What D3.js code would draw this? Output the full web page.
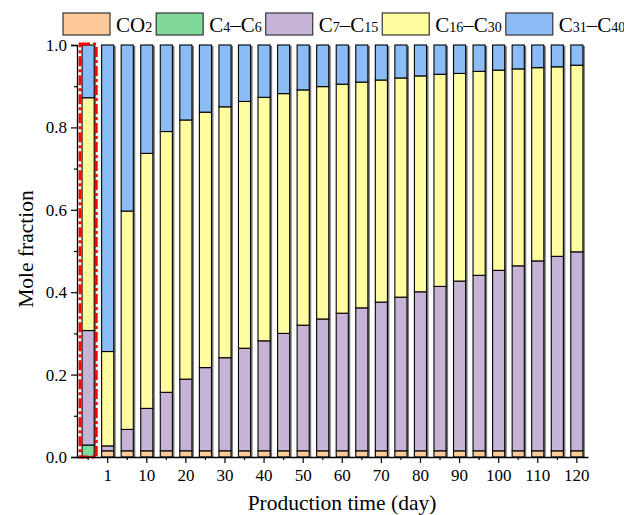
<!DOCTYPE html>
<html>
<head>
<meta charset="utf-8">
<script src="https://cdn.jsdelivr.net/npm/d3@7"></script>
<style>
  body { margin: 0; background: #fff; }
  text { font-family: "Liberation Serif", "Times New Roman", serif; fill: #000; }
</style>
</head>
<body>
<div id="chart"></div>
<script>
// categories: the first bar is the initial composition (no label)
const days = ["init", "1", "5", "10", "15", "20", "25", "30", "35", "40", "45", "50", "55",
              "60", "65", "70", "75", "80", "85", "90", "95", "100", "105", "110", "115", "120"];
const labeledDays = ["1", "10", "20", "30", "40", "50", "60", "70", "80", "90", "100", "110", "120"];

const co2    = [0, 0.015, 0.015, 0.015, 0.015, 0.015, 0.015, 0.015, 0.015, 0.015, 0.015, 0.015, 0.015,
                0.015, 0.015, 0.015, 0.015, 0.015, 0.015, 0.015, 0.015, 0.015, 0.015, 0.015, 0.015, 0.015];
const c4c6   = [0.029, 0, 0, 0, 0, 0, 0, 0, 0, 0, 0, 0, 0,
                0, 0, 0, 0, 0, 0, 0, 0, 0, 0, 0, 0, 0];
const c7c15  = [0.278, 0.012, 0.052, 0.103, 0.142, 0.174, 0.202, 0.226, 0.249, 0.267, 0.285, 0.305, 0.320,
                0.334, 0.347, 0.361, 0.373, 0.386, 0.399, 0.412, 0.426, 0.438, 0.449, 0.461, 0.472, 0.483];
const c16c30 = [0.565, 0.229, 0.530, 0.619, 0.633, 0.629, 0.620, 0.609, 0.599, 0.591, 0.582, 0.571, 0.564,
                0.556, 0.548, 0.539, 0.532, 0.524, 0.515, 0.504, 0.495, 0.486, 0.478, 0.469, 0.460, 0.453];
const c31c40 = [0.128, 0.744, 0.403, 0.263, 0.210, 0.182, 0.163, 0.150, 0.137, 0.127, 0.118, 0.109, 0.101,
                0.095, 0.090, 0.085, 0.080, 0.075, 0.071, 0.069, 0.064, 0.061, 0.058, 0.055, 0.053, 0.049];

const seriesNames = ["CO2", "C4–C6", "C7–C15", "C16–C30", "C31–C40"];
const seriesValues = [co2, c4c6, c7c15, c16c30, c31c40];
const colors = ["#fdca98", "#80d99b", "#c6b3d6", "#fffd9f", "#8bbcf5"];

const yMajor = [0, 0.2, 0.4, 0.6, 0.8, 1.0];
const yMinor = [0.1, 0.3, 0.5, 0.7, 0.9];

const W = 624, H = 515;
const mLeft = 77, mRight = 588, mTop = 45, mBottom = 457;
const serif = '"Liberation Serif", "Times New Roman", serif';

const svg = d3.select("#chart").append("svg")
  .attr("width", W).attr("height", H)
  .attr("font-family", serif);

// table for d3.stack
const rows = days.map(function(d, i) {
  const r = { day: d };
  seriesNames.forEach(function(k, j) { r[k] = seriesValues[j][i]; });
  return r;
});
const stacked = d3.stack().keys(seriesNames)(rows);

const x = d3.scaleBand().domain(days).range([mLeft, mRight])
  .paddingInner(0.38).paddingOuter(0.26);
const y = d3.scaleLinear().domain([0, 1]).range([mBottom, mTop]);

// drop shadows behind each column
svg.append("g").selectAll("rect")
  .data(rows)
  .enter().append("rect")
  .attr("x", d => x(d.day) + 2)
  .attr("y", d => y(d3.sum(seriesNames, k => d[k])) + 1)
  .attr("width", x.bandwidth())
  .attr("height", d => mBottom - y(d3.sum(seriesNames, k => d[k])) - 1)
  .attr("fill", "#7a7a7a");

// stacked bars
svg.append("g").selectAll("g")
  .data(stacked)
  .enter().append("g")
  .attr("fill", (d, i) => colors[i])
  .selectAll("rect")
  .data(d => d.filter(p => p[1] - p[0] > 0))
  .enter().append("rect")
  .attr("x", d => x(d.data.day))
  .attr("y", d => y(d[1]))
  .attr("width", x.bandwidth())
  .attr("height", d => y(d[0]) - y(d[1]))
  .attr("stroke", "#000")
  .attr("stroke-width", 1.1);

// red dashed box around the initial bar
svg.append("rect")
  .attr("x", x("init") - 2)
  .attr("y", mTop - 1)
  .attr("width", x.bandwidth() + 4)
  .attr("height", mBottom - mTop + 1)
  .attr("fill", "none")
  .attr("stroke", "#ff0000")
  .attr("stroke-width", 3)
  .attr("stroke-dasharray", "10,3,3,3");

// axes
svg.append("g")
  .attr("transform", "translate(" + mLeft + ",0)")
  .call(d3.axisLeft(y).tickValues(yMajor).tickSize(6).tickPadding(4).tickFormat(d3.format(".1f")));
const yAxisMinor = svg.append("g")
  .attr("transform", "translate(" + mLeft + ",0)")
  .call(d3.axisLeft(y).tickValues(yMinor).tickSize(3).tickFormat(""));
yAxisMinor.select(".domain").remove();

svg.append("g")
  .attr("transform", "translate(0," + mBottom + ")")
  .call(d3.axisBottom(x).tickValues(labeledDays).tickSize(6).tickPadding(6).tickSizeOuter(0));
const xAxisMinor = svg.append("g")
  .attr("transform", "translate(0," + mBottom + ")")
  .call(d3.axisBottom(x).tickValues(days.filter(d => labeledDays.indexOf(d) < 0)).tickSize(3).tickFormat(""));
xAxisMinor.select(".domain").remove();

svg.selectAll("g").filter(function() { return this.hasAttribute("font-family"); })
  .attr("font-family", serif).attr("font-size", 17);
svg.selectAll(".domain").attr("stroke", "#000").attr("stroke-width", 1.3);
svg.selectAll(".tick line").attr("stroke", "#000").attr("stroke-width", 1.2);
svg.selectAll(".tick text").attr("fill", "#000");

// axis titles
svg.append("text")
  .attr("transform", "translate(33,249) rotate(-90)")
  .attr("text-anchor", "middle")
  .style("font-size", "21.5px")
  .text("Mole fraction");

svg.append("text")
  .attr("x", 342)
  .attr("y", 510)
  .attr("text-anchor", "middle")
  .style("font-size", "21.5px")
  .text("Production time (day)");

// legend with digit subscripts
let lx = 63;
seriesNames.forEach(function(name, i) {
  svg.append("rect")
    .attr("x", lx).attr("y", 13)
    .attr("width", 47).attr("height", 22)
    .attr("fill", colors[i])
    .attr("stroke", "#333").attr("stroke-width", 1.2);
  const t = svg.append("text")
    .attr("x", lx + 53).attr("y", 32)
    .style("font-size", "21px");
  name.match(/\d+|\D+/g).forEach(function(part) {
    const isSub = /\d/.test(part);
    t.append("tspan")
      .style("font-size", isSub ? "14px" : "21px")
      .text(part);
  });
  lx = lx + 53 + t.node().getComputedTextLength() + 4;
});
</script>
</body>
</html>
